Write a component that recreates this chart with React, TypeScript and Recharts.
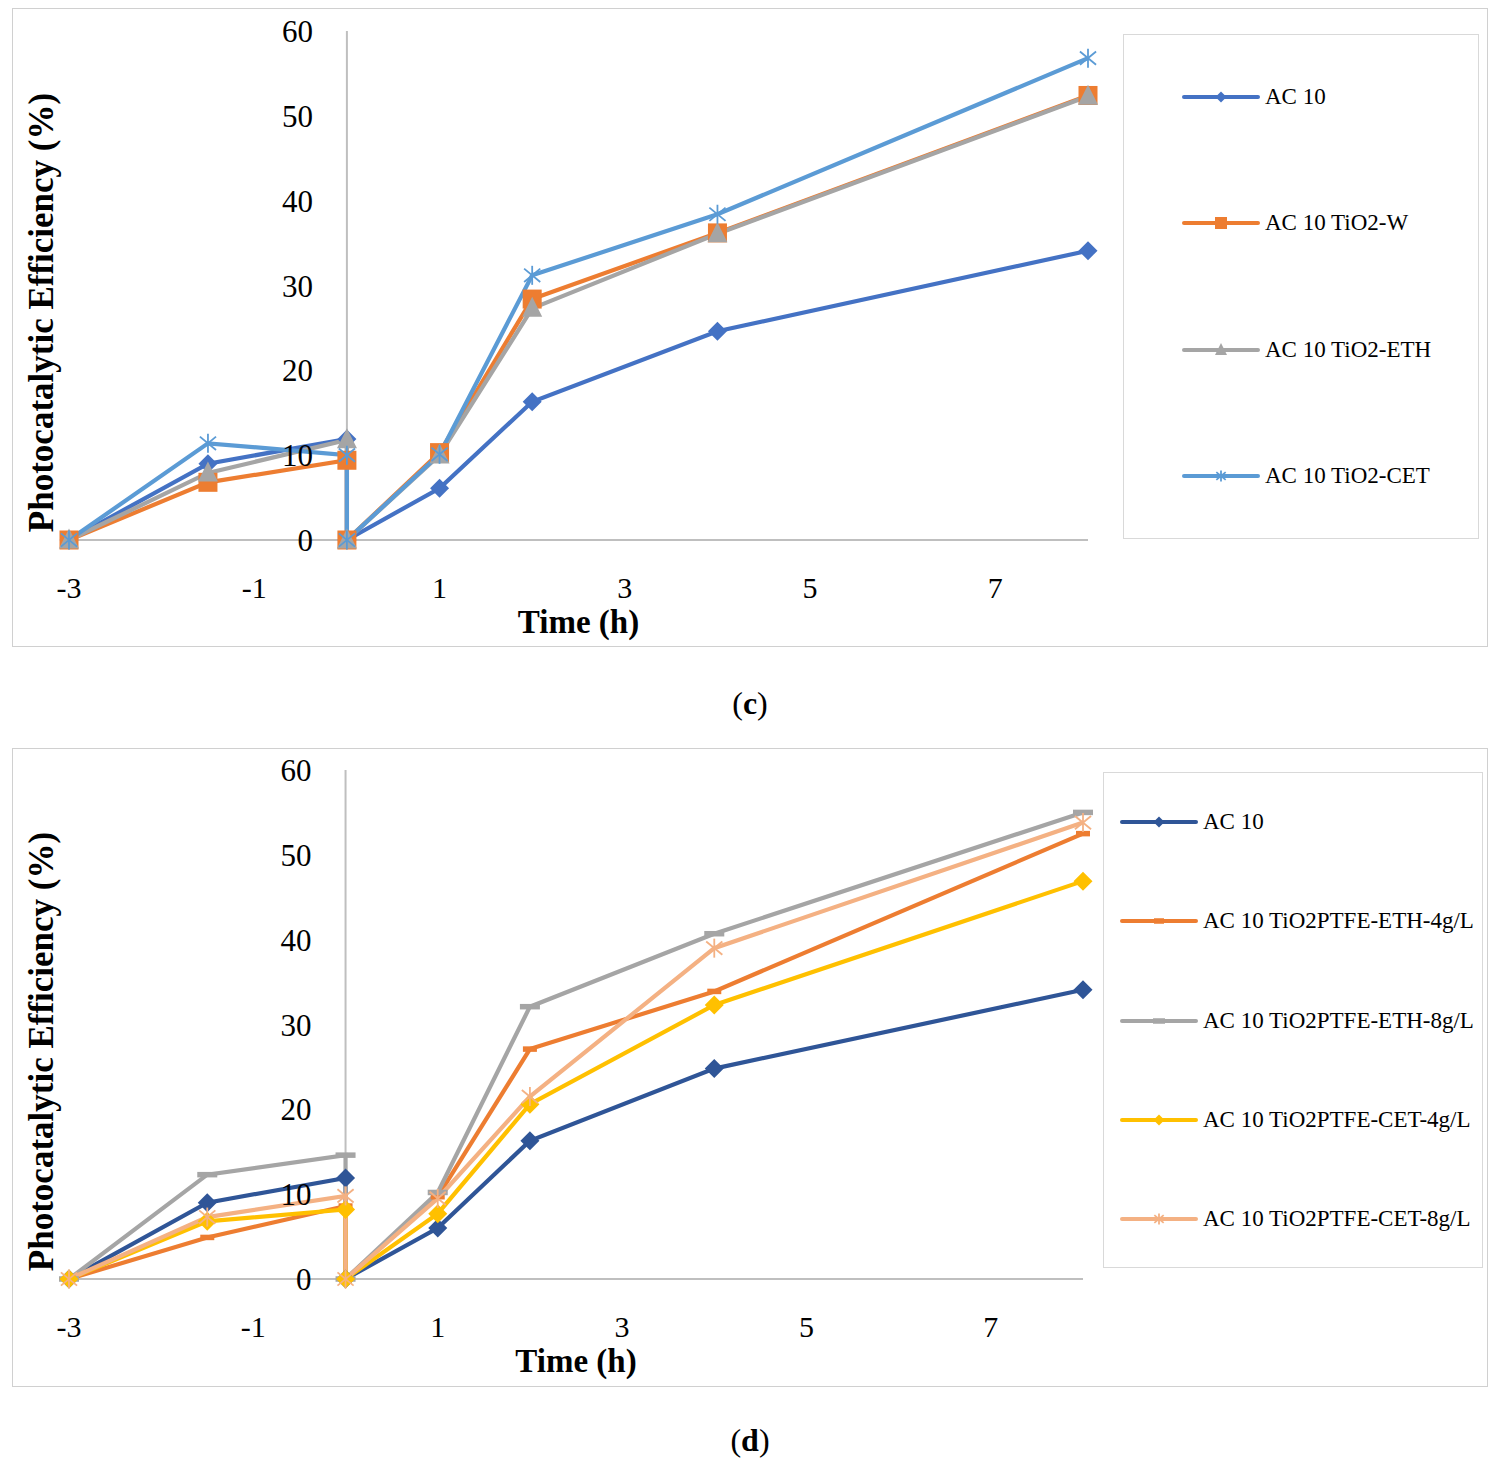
import React from 'react';
import { LineChart, Line, XAxis, YAxis, ReferenceLine, ReferenceDot } from 'recharts';

// ---------- data ----------
const xHours = [-3, -1.5, 0, 0, 1, 2, 4, 8];
const xTicks = [-3, -1, 1, 3, 5, 7];
const yTicks = [0, 10, 20, 30, 40, 50, 60];

const cNames = ['AC 10', 'AC 10 TiO2-W', 'AC 10 TiO2-ETH', 'AC 10 TiO2-CET'];
const cAC10 = [0, 9.0, 11.9, 0, 6.1, 16.3, 24.6, 34.1];
const cTiO2W = [0, 6.8, 9.4, 0, 10.3, 28.4, 36.2, 52.4];
const cTiO2ETH = [0, 7.9, 11.8, 0, 10.0, 27.3, 36.1, 52.3];
const cTiO2CET = [0, 11.4, 10.0, 0, 10.1, 31.2, 38.4, 56.8];

const dNames = [
  'AC 10',
  'AC 10 TiO2PTFE-ETH-4g/L',
  'AC 10 TiO2PTFE-ETH-8g/L',
  'AC 10 TiO2PTFE-CET-4g/L',
  'AC 10 TiO2PTFE-CET-8g/L',
];
const dAC10 = [0, 9.0, 11.9, 0, 6.0, 16.3, 24.8, 34.1];
const dEth4 = [0, 4.9, 8.6, 0, 9.7, 27.1, 33.9, 52.5];
const dEth8 = [0, 12.3, 14.6, 0, 10.2, 32.1, 40.7, 55.0];
const dCet4 = [0, 6.8, 8.2, 0, 7.7, 20.6, 32.3, 46.9];
const dCet8 = [0, 7.3, 9.8, 0, 9.5, 21.5, 39.0, 53.8];

// ---------- styles ----------
type Kind = 'diamond' | 'square' | 'triangle' | 'star' | 'dash';
interface SeriesStyle { color: string; kind: Kind; size: number; legendSize: number }

const cStyles: SeriesStyle[] = [
  { color: '#4472C4', kind: 'diamond', size: 19, legendSize: 11 },
  { color: '#ED7D31', kind: 'square', size: 19, legendSize: 12 },
  { color: '#A5A5A5', kind: 'triangle', size: 20, legendSize: 12 },
  { color: '#5B9BD5', kind: 'star', size: 19, legendSize: 11 },
];
const dStyles: SeriesStyle[] = [
  { color: '#2F5597', kind: 'diamond', size: 19, legendSize: 11 },
  { color: '#ED7D31', kind: 'dash', size: 14, legendSize: 10 },
  { color: '#A5A5A5', kind: 'dash', size: 20, legendSize: 12 },
  { color: '#FFC000', kind: 'diamond', size: 19, legendSize: 11 },
  { color: '#F4B183', kind: 'star', size: 19, legendSize: 11 },
];

const FONT = '"Liberation Serif", "Times New Roman", serif';
const AXIS_GRAY = '#BFBFBF';

function Marker({ kind, cx, cy, color, size }: { kind: Kind; cx: number; cy: number; color: string; size: number }) {
  const h = size / 2;
  switch (kind) {
    case 'diamond':
      return <path d={`M${cx},${cy - h}L${cx + h},${cy}L${cx},${cy + h}L${cx - h},${cy}Z`} fill={color} />;
    case 'square':
      return <rect x={cx - h} y={cy - h} width={size} height={size} fill={color} />;
    case 'triangle':
      return (
        <path
          d={`M${cx},${cy - size * 0.58}L${cx + h},${cy + size * 0.42}L${cx - h},${cy + size * 0.42}Z`}
          fill={color}
        />
      );
    case 'star':
      return (
        <g stroke={color} strokeWidth={1.8}>
          <line x1={cx} y1={cy - h} x2={cx} y2={cy + h} />
          <line x1={cx - h * 0.85} y1={cy - h * 0.7} x2={cx + h * 0.85} y2={cy + h * 0.7} />
          <line x1={cx - h * 0.85} y1={cy + h * 0.7} x2={cx + h * 0.85} y2={cy - h * 0.7} />
        </g>
      );
    case 'dash':
      return <rect x={cx - h} y={cy - 2.75} width={size} height={5.5} fill={color} />;
  }
  return null;
}

function buildRows(series: number[][]) {
  return xHours.map((x, i) => {
    const row: Record<string, number> = { x };
    series.forEach((s, k) => {
      row[`s${k}`] = s[i];
    });
    return row;
  });
}

const yTitle = (props: any) => {
  const vb = props.viewBox || { x: 0, y: 0, width: 57, height: 509 };
  const x = vb.x + 29;
  const y = vb.y + vb.height / 2 + 27;
  return (
    <text
      x={x}
      y={y}
      transform={`rotate(-90 ${x} ${y})`}
      textAnchor="middle"
      dominantBaseline="central"
      fontSize={35}
      fontWeight="bold"
      fill="#000"
      fontFamily={FONT}
    >
      Photocatalytic Efficiency (%)
    </text>
  );
};

interface PanelProps {
  top: number;
  series: number[][];
  names: string[];
  styles: SeriesStyle[];
  marginTop: number;
  marginRight: number;
  marginBottom: number;
  legend: { left: number; top: number; width: number; height: number; firstY: number; step: number; lineX: number; textX: number };
  caption: string;
  captionTop: number;
}

function Panel({ top, series, names, styles, marginTop, marginRight, marginBottom, legend, caption, captionTop }: PanelProps) {
  const rows = buildRows(series);
  return (
    <>
      <div
        style={{
          position: 'absolute',
          left: 4,
          top,
          width: 1476,
          height: 639,
          boxSizing: 'border-box',
          border: '1.5px solid #D0D0D0',
        }}
      />
      <div style={{ position: 'absolute', left: 4, top }}>
        <LineChart
          width={1100}
          height={639}
          data={rows}
          margin={{ top: marginTop, right: marginRight, bottom: marginBottom, left: 0 }}
        >
          <XAxis
            dataKey="x"
            type="number"
            domain={[-3, 8]}
            ticks={xTicks}
            interval={0}
            height={100}
            tickLine={false}
            axisLine={{ stroke: AXIS_GRAY, strokeWidth: 2 }}
            tickMargin={31}
            tick={{ fontSize: 30, fill: '#000', fontFamily: FONT }}
            label={{ value: 'Time (h)', position: 'insideBottom', offset: 7, fontSize: 33, fontWeight: 'bold', fill: '#000', fontFamily: FONT }}
          />
          <YAxis
            type="number"
            domain={[0, 60]}
            ticks={yTicks}
            width={57}
            tick={false}
            tickLine={false}
            axisLine={false}
            label={{ content: yTitle }}
          />
          <ReferenceLine x={0} stroke={AXIS_GRAY} strokeWidth={2} />
          {yTicks.map((v) => (
            <ReferenceDot
              key={`yt-${v}`}
              x={0}
              y={v}
              r={0}
              fill="none"
              stroke="none"
              label={{ value: String(v), position: 'left', offset: 34, fontSize: 31, fill: '#000', fontFamily: FONT }}
            />
          ))}
          {series.map((_, k) => {
            const st = styles[k];
            return (
              <Line
                key={`s${k}`}
                dataKey={`s${k}`}
                name={names[k]}
                stroke={st.color}
                strokeWidth={4.2}
                isAnimationActive={false}
                activeDot={false}
                dot={(p: any) => (
                  <g key={`d${k}-${p.index}`}>
                    <Marker kind={st.kind} cx={p.cx} cy={p.cy} color={st.color} size={st.size} />
                  </g>
                )}
              />
            );
          })}
        </LineChart>
      </div>
      <div
        style={{
          position: 'absolute',
          left: legend.left,
          top: legend.top,
          width: legend.width,
          height: legend.height,
          boxSizing: 'border-box',
          border: '1.5px solid #D9D9D9',
          background: '#fff',
        }}
      >
        {names.map((n, k) => {
          const st = styles[k];
          const cy = legend.firstY + k * legend.step;
          return (
            <div key={n + k} style={{ position: 'absolute', left: 0, top: cy - 15, height: 30, width: legend.width }}>
              <svg width={80} height={30} style={{ position: 'absolute', left: legend.lineX - 3, top: 0 }}>
                <line x1={3} y1={15} x2={77} y2={15} stroke={st.color} strokeWidth={4} strokeLinecap="round" />
                <Marker kind={st.kind} cx={40} cy={15} color={st.color} size={st.legendSize} />
              </svg>
              <span
                style={{
                  position: 'absolute',
                  left: legend.textX,
                  top: 0,
                  lineHeight: '30px',
                  fontSize: 23,
                  whiteSpace: 'nowrap',
                  color: '#000',
                }}
              >
                {n}
              </span>
            </div>
          );
        })}
      </div>
      <div
        style={{
          position: 'absolute',
          left: 0,
          width: 1484,
          top: captionTop,
          textAlign: 'center',
          fontSize: 32,
          lineHeight: '50px',
          color: '#000',
        }}
      >
        (<b>{caption}</b>)
      </div>
    </>
  );
}

export default function App() {
  return (
    <div style={{ position: 'relative', width: 1484, height: 1450, fontFamily: FONT, background: '#fff' }}>
      <Panel
        top={0}
        series={[cAC10, cTiO2W, cTiO2ETH, cTiO2CET]}
        names={cNames}
        styles={cStyles}
        marginTop={23}
        marginRight={24}
        marginBottom={7}
        legend={{ left: 1115, top: 26, width: 356, height: 505, firstY: 62, step: 126.3, lineX: 60, textX: 141 }}
        caption="c"
        captionTop={670}
      />
      <Panel
        top={740}
        series={[dAC10, dEth4, dEth8, dCet4, dCet8]}
        names={dNames}
        styles={dStyles}
        marginTop={22}
        marginRight={29}
        marginBottom={8}
        legend={{ left: 1095, top: 764, width: 380, height: 496, firstY: 49, step: 99.3, lineX: 18, textX: 99 }}
        caption="d"
        captionTop={1407}
      />
    </div>
  );
}
